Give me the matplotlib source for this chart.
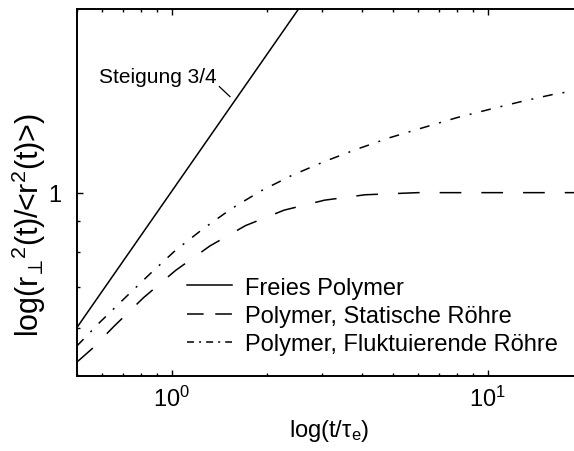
import matplotlib
matplotlib.use("Agg")
import matplotlib.pyplot as plt
from matplotlib.lines import Line2D
from matplotlib.ticker import FixedLocator, FixedFormatter, LogLocator, NullFormatter

plt.rcParams['font.family'] = ['Liberation Sans', 'DejaVu Sans']
plt.rcParams['mathtext.fontset'] = 'custom'
plt.rcParams['mathtext.rm'] = 'Liberation Sans'
plt.rcParams['mathtext.it'] = 'Liberation Sans:italic'
plt.rcParams['mathtext.sf'] = 'Liberation Sans'
plt.rcParams['mathtext.fallback'] = 'stixsans'

# Free polymer: power law with slope 3/4
free_t = [0.5, 2.52]
free_r = [0.60, 2.0]

# Polymer in a static tube
static_t = [0.5, 0.56, 0.657, 0.815, 1.03, 1.322, 1.712, 2.267, 3.045, 4.09, 6.0, 10.0, 20.0]
static_r = [0.527, 0.555, 0.604, 0.673, 0.746, 0.818, 0.883, 0.936, 0.972, 0.992, 1.0, 1.0, 1.0]

# Polymer in a fluctuating tube
fluct_t = [0.5, 0.594, 0.713, 0.856, 1.027, 1.259, 1.549, 1.912, 2.398, 3.034,
           3.85, 4.91, 6.25, 7.98, 10.17, 12.96, 16.53, 20.0]
fluct_r = [0.560, 0.614, 0.673, 0.737, 0.804, 0.873, 0.942, 1.006, 1.067, 1.124,
           1.178, 1.231, 1.278, 1.327, 1.370, 1.413, 1.453, 1.475]

labels = ["Freies Polymer", "Polymer, Statische Röhre", "Polymer, Fluktuierende Röhre"]
ytick_vals = [1]
ytick_labels = ["1"]
yminor_vals = [0.6, 0.7, 0.8, 0.9]

fig = plt.figure(figsize=(5.74, 4.52), dpi=100)
ax = fig.add_axes([76.6 / 574, 74.7 / 452, 506.2 / 574, 367.3 / 452])

lw = 1.1
dash_static = (14.2, 13.1)
dash_fluct = (6.5, 6.5, 1.3, 6.5)
ax.plot(free_t, free_r, color='black', lw=lw)
ax.plot(static_t, static_r, color='black', lw=lw, dashes=dash_static)
ax.plot(fluct_t, fluct_r, color='black', lw=lw, dashes=dash_fluct)

ax.set_xscale('log')
ax.set_yscale('log')
ax.set_xlim(0.5, 20)
ax.set_ylim(0.5, 2.0)

ax.xaxis.set_major_locator(LogLocator(base=10, numticks=10))
ax.xaxis.set_minor_locator(LogLocator(base=10, subs=range(2, 10), numticks=20))
ax.xaxis.set_minor_formatter(NullFormatter())
ax.yaxis.set_major_locator(FixedLocator(ytick_vals))
ax.yaxis.set_major_formatter(FixedFormatter(ytick_labels))
ax.yaxis.set_minor_locator(FixedLocator(yminor_vals))
ax.yaxis.set_minor_formatter(NullFormatter())

ax.tick_params(which='both', direction='in', top=True, right=False, labelsize=17, width=1.0)
ax.tick_params(which='major', length=4.5)
ax.tick_params(which='minor', length=2.5)
ax.tick_params(axis='x', which='major', pad=7)
ax.tick_params(axis='y', which='major', pad=11)
for s in ax.spines.values():
    s.set_linewidth(1.4)

ax.set_xlabel('log(t/τ$_{\\rm e}$)', fontsize=17, labelpad=4)
ax.set_ylabel('log(r$_{\\hspace{-0.12}\\perp}\\hspace{-0.15}^{2}$(t)/<r$^{2}$(t)>)', fontsize=22)
ax.yaxis.set_label_coords(-0.095, 0.415)
ax.yaxis.label.set_verticalalignment('center')

ax.text(0.902, 1.553, 'Steigung 3/4', fontsize=15, ha='center', va='center')
ax.plot([1.415, 1.529], [1.492, 1.437], color='black', lw=0.9)

# legend keys use shorter dash patterns than the curves
handles = [
    Line2D([], [], color='black', lw=lw),
    Line2D([], [], color='black', lw=lw, dashes=(10.9, 7.6)),
    Line2D([], [], color='black', lw=lw, dashes=(4.6, 3.3, 1.3, 3.3)),
]
ax.legend(handles, labels, loc='upper left', bbox_to_anchor=(186.7 / 574, 1 - 277.7 / 452),
          bbox_transform=fig.transFigure, frameon=False, fontsize=17,
          borderpad=0, borderaxespad=0, handlelength=1.9, handletextpad=0.55,
          labelspacing=0.27)

fig.savefig('out.png', dpi=100)
